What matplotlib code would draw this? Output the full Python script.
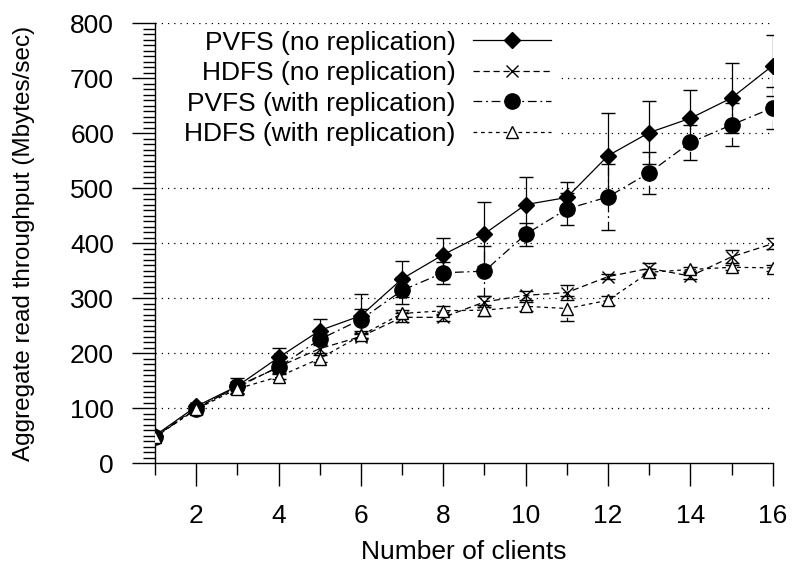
import numpy as np
import matplotlib
matplotlib.use("Agg")
import matplotlib.pyplot as plt

# ==========================
# Données
# ==========================

clients = [1, 2, 3, 4, 5, 6, 7, 8, 9, 10, 11, 12, 13, 14, 15, 16]

pvfs_norep = [50, 103, 140, 192, 241, 268, 335, 379, 417, 470, 483, 559, 601, 627, 664, 723]
pvfs_norep_err = [4, 5, 8, 18, 21, 40, 33, 31, 58, 51, 29, 78, 57, 51, 64, 55]

hdfs_norep = [48, 100, 138, 175, 208, 230, 265, 265, 293, 305, 310, 339, 354, 340, 375, 399]
hdfs_norep_err = [3, 5, 10, 5, 8, 5, 8, 6, 10, 8, 13, 5, 10, 5, 12, 10]

pvfs_rep = [48, 98, 140, 174, 225, 261, 314, 346, 349, 416, 462, 484, 528, 583, 615, 646]
pvfs_rep_err = [4, 8, 14, 10, 10, 20, 24, 20, 45, 21, 30, 60, 38, 32, 39, 38]

hdfs_rep = [47, 98, 135, 157, 190, 232, 272, 277, 278, 285, 281, 296, 347, 352, 356, 355]
hdfs_rep_err = [3, 5, 10, 5, 6, 5, 6, 8, 10, 8, 22, 8, 5, 5, 5, 5]

labels = [
    "PVFS (no replication)",
    "HDFS (no replication)",
    "PVFS (with replication)",
    "HDFS (with replication)",
]

# ==========================
# Figure
# ==========================

plt.rcParams["font.family"] = ["Liberation Sans", "DejaVu Sans"]
fs = 19

fig = plt.figure(figsize=(7.93, 5.65), dpi=100)
ax = fig.add_axes([0.1955, 0.1805, 0.779, 0.7785])

styles = [
    (pvfs_norep, pvfs_norep_err, "-", "D", 8, "black"),
    (hdfs_norep, hdfs_norep_err, (0, (5, 3)), "x", 9, "black"),
    (pvfs_rep, pvfs_rep_err, (0, (7, 3, 1.5, 3)), "o", 11, "black"),
    (hdfs_rep, hdfs_rep_err, (0, (3, 3)), "^", 9, "white"),
]

handles = []
for (vals, errs, ls, mk, ms, face), lab in zip(styles, labels):
    eb = ax.errorbar(
        clients, vals, yerr=errs,
        color="black", linestyle=ls, linewidth=0.9,
        marker=mk, markersize=ms, markerfacecolor=face,
        markeredgecolor="black", markeredgewidth=1.0,
        ecolor="black", elinewidth=0.9, capsize=4.7, capthick=0.9,
        label=lab, zorder=3,
    )
    for bar in eb[2]:
        bar.set_linestyle(ls)
    handles.append(eb[0])

ax.set_xlim(1, 16)
ax.set_ylim(0, 800)

ax.set_xticks([2, 4, 6, 8, 10, 12, 14, 16])
ax.set_xticks([1, 3, 5, 7, 9, 11, 13, 15], minor=True)
ax.set_yticks(np.arange(0, 801, 100))
ax.set_yticks(np.arange(0, 801, 10), minor=True)

ax.tick_params(axis="both", which="major", direction="out", length=16.5,
               width=1.0, labelsize=fs, pad=13)
ax.tick_params(axis="both", which="minor", direction="out", length=8.6,
               width=1.0)

for y in range(100, 801, 100):
    ax.axhline(y, color="black", linestyle=(0, (1, 4)), linewidth=0.9, zorder=1)

# la légende masque la grille derrière elle
ax.axhspan(572, 795, xmin=0, xmax=0.65, color="white", zorder=2)

ax.spines["top"].set_visible(False)
ax.spines["right"].set_visible(False)
ax.spines["left"].set_linewidth(1.0)
ax.spines["bottom"].set_linewidth(1.0)

ax.set_xlabel("Number of clients", fontsize=fs, labelpad=9)
ax.set_ylabel("Aggregate read throughput (Mbytes/sec)", fontsize=17.5, labelpad=25)

fig.legend(
    handles, labels,
    loc="upper right", bbox_to_anchor=(0.695, 0.946),
    frameon=False, markerfirst=False, fontsize=fs,
    handlelength=2.95, labelspacing=0.25, borderpad=0, borderaxespad=0,
    handletextpad=0.66,
)

fig.savefig("out.png", dpi=100)
